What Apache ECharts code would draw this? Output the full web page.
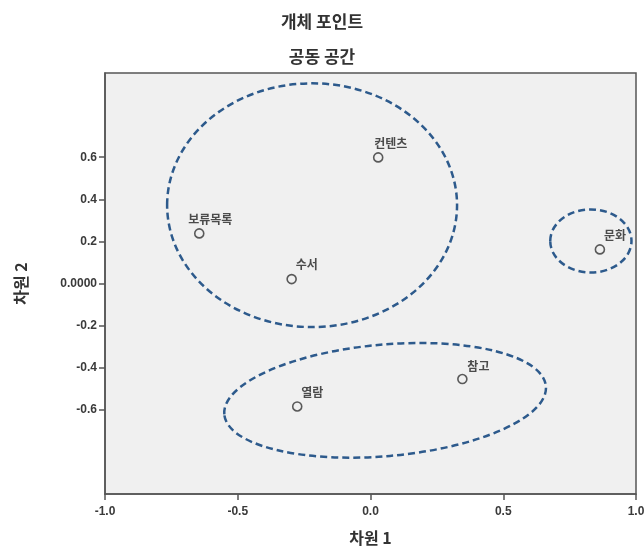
<!DOCTYPE html>
<html>
<head>
<meta charset="utf-8">
<script src="https://cdn.jsdelivr.net/npm/echarts@6/dist/echarts.min.js"></script>
<style>html,body{margin:0;padding:0;background:#fff;}#c{width:644px;height:549px;}</style>
</head>
<body>
<div id="c"></div>
<script>
// ---- data ----
const pointNames = ['컨텐츠', '보류목록', '수서', '문화', '참고', '열람'];
const dim1 = [0.029, -0.645, -0.297, 0.864, 0.346, -0.276];
const dim2 = [0.599, 0.238, 0.021, 0.162, -0.454, -0.584];
// ellipse groupings: centre x, centre y, radius x, radius y, rotation (deg)
const ellipseCx = [-0.220, 0.830, 0.055];
const ellipseCy = [0.372, 0.202, -0.555];
const ellipseRx = [0.546, 0.153, 0.608];
const ellipseRy = [0.579, 0.150, 0.265];
const ellipseRot = [0, 0, -5];
const xTicks = [-1.0, -0.5, 0.0, 0.5, 1.0];
const yTicks = [-0.6, -0.4, -0.2, 0.0, 0.2, 0.4, 0.6];
const titleText = '개체 포인트';
const subTitleText = '공동 공간';
const xName = '차원 1';
const yName = '차원 2';

// ---- style (label placement relative to each point, px) ----
const labelShiftX = [-4, -11, 4, 4, 5, 4];
const labelShiftY = [0, 0, 0, 0, 2, 0];

const chart = echarts.init(document.getElementById('c'), null, {renderer: 'canvas'});
const axisColor = '#555';
const labelFont = '"Liberation Sans", Arial, sans-serif';
const cjk = '"Noto Sans CJK KR", sans-serif';

const scatterData = pointNames.map((n, i) => ({
  name: n, value: [dim1[i], dim2[i]],
  label: {offset: [labelShiftX[i], labelShiftY[i]]}
}));
const ellipseData = ellipseCx.map((c, i) => [c, ellipseCy[i], ellipseRx[i], ellipseRy[i], ellipseRot[i]]);

chart.setOption({
  backgroundColor: '#fff',
  animation: false,
  title: [
    {text: titleText, left: 'center', top: 8, textStyle: {fontFamily: cjk, fontSize: 17, fontWeight: 'bold', color: '#333'}},
    {text: subTitleText, left: 'center', top: 43, textStyle: {fontFamily: cjk, fontSize: 17, fontWeight: 'bold', color: '#333'}}
  ],
  grid: {
    left: 105, right: 8, top: 73, bottom: 55,
    show: true, backgroundColor: '#f0f0f0', borderColor: axisColor, borderWidth: 1.5,
    outerBoundsMode: 'none'
  },
  xAxis: {
    type: 'value', min: -1, max: 1, interval: 0.5,
    name: xName, nameLocation: 'middle', nameGap: 36,
    nameTextStyle: {fontFamily: cjk, fontSize: 16, fontWeight: 'bold', color: '#333'},
    axisLine: {show: true, onZero: false, lineStyle: {color: axisColor, width: 1.5}},
    axisTick: {show: true, length: 6, lineStyle: {color: axisColor, width: 1.5}, customValues: xTicks},
    axisLabel: {fontFamily: labelFont, fontSize: 12, fontWeight: 'bold', color: '#3a3a3a', margin: 12,
      customValues: xTicks, formatter: v => v.toFixed(1)},
    splitLine: {show: false}
  },
  yAxis: {
    type: 'value', min: -1, max: 1, interval: 0.2,
    name: yName, nameLocation: 'middle', nameGap: 76, nameRotate: 90,
    nameTextStyle: {fontFamily: cjk, fontSize: 16, fontWeight: 'bold', color: '#333'},
    axisLine: {show: true, onZero: false, lineStyle: {color: axisColor, width: 1.5}},
    axisTick: {show: true, length: 6, lineStyle: {color: axisColor, width: 1.5}, customValues: yTicks},
    axisLabel: {fontFamily: labelFont, fontSize: 12, fontWeight: 'bold', color: '#3a3a3a', margin: 8,
      customValues: yTicks, formatter: v => (Math.abs(v) < 1e-9 ? '0.0000' : v.toFixed(1))},
    splitLine: {show: false}
  },
  series: [
    {
      type: 'custom',
      coordinateSystem: 'cartesian2d',
      silent: true,
      z: 1,
      data: ellipseData,
      renderItem: function (params, api) {
        const c = api.coord([api.value(0), api.value(1)]);
        const s = api.size([api.value(2), api.value(3)]);
        const a = s[0], b = s[1];
        const rot = api.value(4);
        const phi = rot * Math.PI / 180;
        const dx = a * Math.cos(phi), dy = a * Math.sin(phi);
        const x1 = c[0] - dx, y1 = c[1] - dy, x2 = c[0] + dx, y2 = c[1] + dy;
        const d = 'M' + x1 + ' ' + y1 + ' A' + a + ' ' + b + ' ' + rot + ' 1 1 ' + x2 + ' ' + y2 +
                  ' A' + a + ' ' + b + ' ' + rot + ' 1 1 ' + x1 + ' ' + y1 + ' Z';
        return {
          type: 'path',
          shape: {pathData: d},
          style: {fill: null, stroke: '#2d5a8c', lineWidth: 2.5, lineDash: [7, 4]}
        };
      }
    },
    {
      type: 'scatter',
      z: 3,
      data: scatterData,
      symbol: 'circle',
      symbolSize: 9,
      itemStyle: {color: '#f0f0f0', borderColor: '#333', borderWidth: 1.6},
      label: {
        show: true, position: 'top', align: 'left', distance: 3,
        formatter: p => p.name,
        fontFamily: cjk, fontSize: 12, fontWeight: 'bold', color: '#222'
      }
    }
  ]
});
</script>
</body>
</html>
